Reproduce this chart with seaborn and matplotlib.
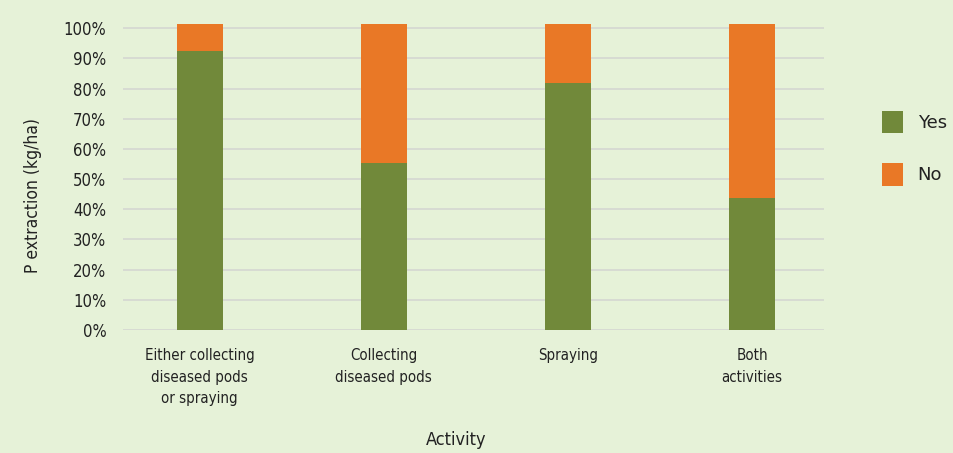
import matplotlib
matplotlib.use("Agg")
import matplotlib.pyplot as plt
import seaborn as sns
import pandas as pd
from matplotlib.patches import Patch

activities = [
    "Either collecting\ndiseased pods\nor spraying",
    "Collecting\ndiseased pods",
    "Spraying",
    "Both\nactivities",
]
yes_share = [92.4, 55.3, 81.8, 43.7]
no_share = [8.9, 46.0, 19.5, 57.6]
y_ticks = [0, 10, 20, 30, 40, 50, 60, 70, 80, 90, 100]

GREEN = "#71893A"
ORANGE = "#E97826"
BG = "#E6F2D8"
INK = "#222222"

df = pd.DataFrame({"Activity": activities, "Yes": yes_share, "No": no_share})
df["Total"] = df["Yes"] + df["No"]

sns.set_theme(style="white")
plt.rcParams["font.family"] = ["DejaVu Sans"]
plt.rcParams["font.stretch"] = "condensed"

fig = plt.figure(figsize=(9.54, 4.53), dpi=100, facecolor=BG)
ax = fig.add_axes([123 / 954, 1 - 330 / 453, (824 - 123) / 954, (330 - 24) / 453])
ax.set_facecolor(BG)

# stacked bars: full height in orange, "Yes" share drawn over it in green
sns.barplot(data=df, x="Activity", y="Total", color=ORANGE, width=0.25,
            saturation=1, ax=ax, zorder=3)
sns.barplot(data=df, x="Activity", y="Yes", color=GREEN, width=0.25,
            saturation=1, ax=ax, zorder=4)
for p in ax.patches:
    p.set_linewidth(0)

ax.set_xlim(-0.416, 3.39)
ax.set_ylim(0, 101.4)
ax.set_yticks(y_ticks)
ax.set_yticklabels([f"{t}%" for t in y_ticks], fontsize=12, color=INK)
ax.tick_params(axis="x", labelsize=10.8, colors=INK, pad=13, length=0)
ax.tick_params(axis="y", pad=12, length=0)
for lbl in ax.get_xticklabels():
    lbl.set_linespacing(1.55)
ax.yaxis.grid(True, color="#D6D9D2", linewidth=1.3, zorder=0)
ax.xaxis.grid(False)
for s in ax.spines.values():
    s.set_visible(False)

ax.set_xlabel("Activity", fontsize=13, color=INK)
ax.xaxis.set_label_coords(0.475, -0.33)
ax.set_ylabel("P extraction (kg/ha)", fontsize=12.5, color=INK)
ax.yaxis.set_label_coords(-0.115, 0.44)

handles = [Patch(facecolor=GREEN, edgecolor="none", label="Yes"),
           Patch(facecolor=ORANGE, edgecolor="none", label="No")]
fig.legend(handles=handles, loc="center left", bbox_to_anchor=(0.907, 0.673),
           frameon=False, handlelength=1.2, handleheight=1.5,
           labelspacing=1.7, handletextpad=0.8, labelcolor=INK,
           prop={"family": "DejaVu Sans", "stretch": "normal", "size": 13})

fig.savefig("out.png", dpi=100, facecolor=BG)
